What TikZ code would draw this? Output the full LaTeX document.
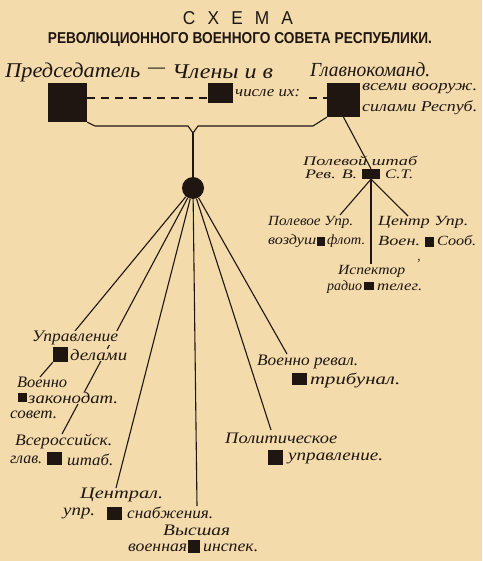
\documentclass[tikz,border=0pt]{standalone}
\usepackage{fontspec}
\usepackage{graphicx}
\setmainfont{Liberation Serif}
\newfontfamily\sansf{Liberation Sans}
\definecolor{paper}{HTML}{F3DBAC}
\definecolor{ink}{HTML}{1F1612}
\newcommand{\fitw}[3][16]{\resizebox{#2pt}{\height}{\fontsize{#1}{#1}\selectfont\itshape #3}}
\tikzset{
  sq/.style={fill=ink, draw=none, inner sep=0pt},
  hub/.style={circle, fill=ink, draw=none, inner sep=0pt, minimum size=22pt},
  conn/.style={draw=ink, line width=1.1pt},
  dashconn/.style={draw=ink, line width=1.1pt, dash pattern=on 8pt off 6pt},
  txt/.style={anchor=west, inner sep=0pt, text=ink},
  gaptxt/.style={anchor=west, inner sep=0pt, fill=paper, text=ink},
}
\begin{document}
\begin{tikzpicture}[x=1pt,y=-1pt]
\fill[paper] (0,0) rectangle (482,561);
\useasboundingbox (0,0) rectangle (482,561);

% title
\node[inner sep=0pt, text=ink] (title) at (238,18.5) {\resizebox{110pt}{13pt}{\sansf С\hspace{7pt}Х\hspace{7pt}Е\hspace{7pt}М\hspace{7pt}А}};
\node[inner sep=0pt, text=ink] (subtitle) at (240,40) {\resizebox{384pt}{11pt}{\sansf\bfseries РЕВОЛЮЦИОННОГО ВОЕННОГО СОВЕТА РЕСПУБЛИКИ.}};

% squares
\node[sq, minimum width=39pt, minimum height=39pt] (A) at (67.5,102.5) {};
\node[sq, minimum width=25pt, minimum height=20pt] (B) at (220.5,93) {};
\node[sq, minimum width=33pt, minimum height=34pt] (C) at (343.5,100) {};
\node[sq, minimum width=18pt, minimum height=10pt] (P) at (371,174) {};
\node[sq, minimum width=8pt, minimum height=9pt] (Q1) at (321,241.5) {};
\node[sq, minimum width=9pt, minimum height=10pt] (Q2) at (429.5,242) {};
\node[sq, minimum width=10pt, minimum height=8pt] (Q3) at (369,286) {};
\node[sq, minimum width=15pt, minimum height=15pt] (S1) at (60.5,354.5) {};
\node[sq, minimum width=9pt, minimum height=9pt] (S2) at (22.5,397.5) {};
\node[sq, minimum width=15pt, minimum height=13pt] (S3) at (54.5,458.5) {};
\node[sq, minimum width=15pt, minimum height=13pt] (S4) at (114.5,513.5) {};
\node[sq, minimum width=12pt, minimum height=13pt] (S5) at (194,546.5) {};
\node[sq, minimum width=15pt, minimum height=12pt] (S6) at (299.5,379) {};
\node[sq, minimum width=15pt, minimum height=15pt] (S7) at (275.5,457.5) {};
\node[hub] (O) at (193,188) {};

% connector ends
\coordinate (d1) at (0,98);
\coordinate (d2) at (309,98);
\coordinate (J) at (193,133);
\coordinate (bL) at (95,126);
\coordinate (bR) at (313,126);
\coordinate (e1) at (75,331);
\coordinate (e2) at (62,434);
\coordinate (e3) at (116,488);
\coordinate (e4) at (197,506);
\coordinate (e5) at (271,430);
\coordinate (e6) at (287,354);
\coordinate (p1) at (340,215);
\coordinate (p2) at (408,216);
\coordinate (p3) at (371,264);
\coordinate (v1) at (40,377);

% connectors
\draw[dashconn] (A.east |- d1) -- (B.west |- d1);
\draw[dashconn] (d2) -- (C.west |- d1);
\draw[conn] (A.south east) -- (bL) -- (188,126) -- (J) -- (198,126) -- (bR) -- (C.south west);
\draw[conn] (J) -- (O);
\draw[conn] (C.south) -- (P.north);
\foreach \e in {e1,e2,e3,e4,e5,e6} \draw[conn] (O) -- (\e);
\foreach \e in {p1,p2,p3} \draw[conn] (P.south) -- (\e);
\draw[conn] (S1.south west) -- (v1);

% top row texts
\node[txt] (t1) at (5,72) {\fitw[21]{135}{Председатель}};
\node[txt] (t2) at (148,71) {\fitw[21]{17}{—}};
\node[txt] (t3) at (172,72) {\fitw[21]{101}{Члены и в}};
\node[txt] (t4) at (310,70) {\fitw[20]{120}{Главнокоманд.}};
\node[txt] (t5) at (235,93) {\fitw[15]{65}{числе их:}};
\node[txt] (t6) at (362,89) {\fitw[15]{115}{всеми вооруж.}};
\node[txt] (t7) at (362,108) {\fitw[15]{115}{силами Респуб.}};

% field staff cluster
\node[txt] (f1) at (303,161) {\fitw[13]{114}{Полевой штаб}};
\node[txt] (f2) at (305,174) {\fitw[13]{52}{Рев. В.}};
\node[txt] (f3) at (385,174) {\fitw[13]{28}{С.Т.}};
\node[txt] (f4) at (268,222) {\fitw[14]{85}{Полевое Упр.}};
\node[txt] (f5) at (268,241) {\fitw[14]{48}{воздуш}};
\node[txt] (f6) at (327,241) {\fitw[14]{38}{флот.}};
\node[txt] (f7) at (378,222) {\fitw[14]{90}{Центр Упр.}};
\node[txt] (f8) at (378,241) {\fitw[14]{42}{Воен.}};
\node[txt] (f9) at (437,241) {\fitw[14]{39}{Сооб.}};
\node[txt] (f10) at (338,271) {\fitw[14]{67}{Испектор}};
\node[txt] (f11) at (416,264) {\fitw[14]{4}{’}};
\node[txt] (f12) at (327,287) {\fitw[14]{35}{радио}};
\node[txt] (f13) at (377,287) {\fitw[14]{45}{телег.}};

% lower left texts
\node[gaptxt] (l1) at (32,338) {\fitw{86}{Управление}};
\node[gaptxt] (l2) at (70,355) {\fitw{57}{делами}};
\node[txt] (l3) at (17,382) {\fitw{50}{Военно}};
\node[gaptxt] (l4) at (28,398) {\fitw{90}{законодат.}};
\node[txt] (l5) at (10,415) {\fitw{47}{совет.}};
\node[txt] (l6) at (15,442) {\fitw{97}{Всероссийск.}};
\node[txt] (l7) at (10,460) {\fitw{32}{глав.}};
\node[txt] (l8) at (67,460) {\fitw{46}{штаб.}};
\node[txt] (l9) at (80,495) {\fitw{83}{Централ.}};
\node[txt] (l10) at (63,513) {\fitw{32}{упр.}};
\node[txt] (l11) at (127,513) {\fitw{86}{снабжения.}};
\node[txt] (l12) at (163,530) {\fitw{67}{Высшая}};
\node[txt] (l13) at (128,548) {\fitw{59}{военная}};
\node[txt] (l14) at (203,548) {\fitw{55}{инспек.}};

% lower right texts
\node[txt] (r1) at (257,362) {\fitw{101}{Военно ревал.}};
\node[txt] (r2) at (310,380) {\fitw{90}{трибунал.}};
\node[txt] (r3) at (225,438) {\fitw{112}{Политическое}};
\node[txt] (r4) at (288,458) {\fitw{95}{управление.}};
\end{tikzpicture}
\end{document}
